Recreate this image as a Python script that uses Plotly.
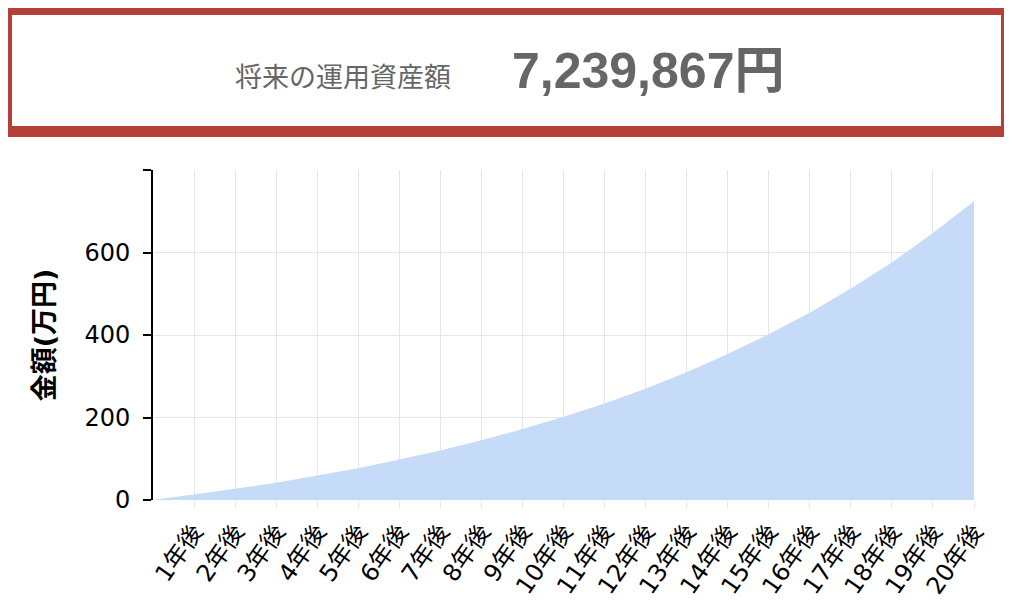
import plotly.graph_objects as go

years = list(range(0, 21))
tick_labels = [f"{i}年後" for i in range(1, 21)]
values = [0, 13, 27, 42, 59, 77, 98, 120, 145, 172, 202, 234, 270, 310, 354, 402, 454, 513, 576, 647, 724]
y_ticks = [0, 200, 400, 600, 800]
y_tick_text = ["0", "200", "400", "600", ""]
header_label = "将来の運用資産額"
header_value = "7,239,867円"

OFF = 8  # page body margin
W, H = 1012 - OFF, 602 - OFF
L, R, T, B = 153 - OFF, 974 - OFF, 170 - OFF, 500 - OFF


def px(x_page):
    return (x_page - OFF - L) / (R - L)


def py(y_page):
    return (B - (y_page - OFF)) / (B - T)


fig = go.Figure()
fig.add_trace(go.Scatter(
    x=years, y=values, mode="lines", fill="tozeroy",
    line=dict(width=0, color="#c5dbf7"), fillcolor="#c5dbf7",
    hoverinfo="skip", showlegend=False,
))

font_main = "DejaVu Sans, Noto Sans CJK JP, sans-serif"

fig.update_layout(
    width=W, height=H,
    margin=dict(l=L, r=W - R, t=T, b=H - B, autoexpand=False),
    paper_bgcolor="white", plot_bgcolor="white",
    font=dict(family=font_main, color="black"),
    xaxis=dict(
        range=[0, 20], tickmode="array", tickvals=list(range(1, 21)),
        ticktext=tick_labels, tickangle=-55, tickfont=dict(size=24, color="black"),
        showgrid=True, gridcolor="#e6e6e6", gridwidth=1,
        ticks="outside", ticklen=7, tickcolor="#e6e6e6",
        showline=False, zeroline=False, automargin=False,
    ),
    yaxis=dict(
        range=[0, 800], tickmode="array", tickvals=y_ticks, ticktext=y_tick_text,
        tickfont=dict(size=24, color="black"), ticklabelstandoff=8,
        showgrid=True, gridcolor="#e6e6e6", gridwidth=1,
        ticks="outside", ticklen=8, tickcolor="black", tickwidth=2,
        showline=True, linecolor="black", linewidth=2, zeroline=False, automargin=False,
        title=dict(text="<b>金額(万円)</b>", font=dict(size=27, color="black"), standoff=22),
    ),
    shapes=[
        dict(type="rect", xref="paper", yref="paper",
             x0=px(6.5), x1=px(1006.5), y0=py(9.5), y1=py(131.5),
             line=dict(color="#b5403a", width=11), fillcolor="white"),
    ],
    annotations=[
        dict(text=header_label, xref="paper", yref="paper", x=px(343), y=py(76),
             xanchor="center", yanchor="middle", showarrow=False,
             font=dict(size=27, color="#666666", family="Noto Sans CJK JP, sans-serif")),
        dict(text=f"<b>{header_value}</b>", xref="paper", yref="paper", x=px(648), y=py(71),
             xanchor="center", yanchor="middle", showarrow=False,
             font=dict(size=50, color="#666666", family="Liberation Sans, Noto Sans CJK JP, sans-serif")),
    ],
)

fig.write_html("out.html")
